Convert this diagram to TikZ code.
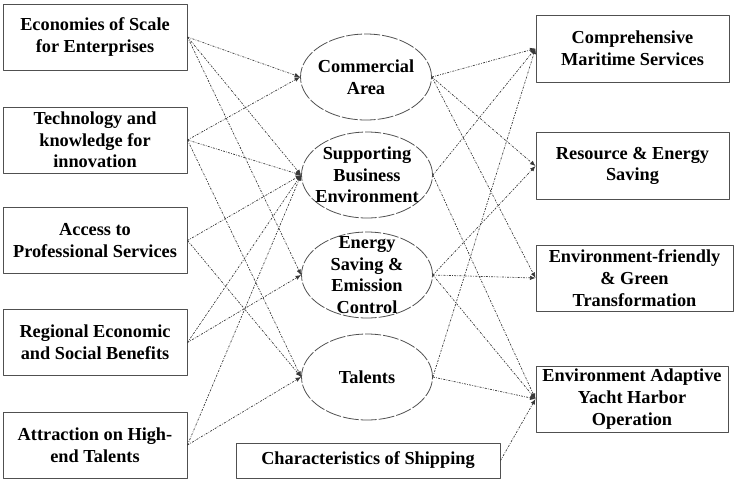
\documentclass[tikz,border=0pt]{standalone}
\usepackage{fontspec}
\setmainfont{Liberation Serif}
\usetikzlibrary{arrows.meta,shapes.geometric}
\definecolor{framegray}{HTML}{505050}
\definecolor{linkgray}{HTML}{383838}

\begin{document}
\begin{tikzpicture}[
  x=1pt,
  y=-1pt,
  line join=round,
  txt/.style={font=\fontsize{18.3}{21.7}\selectfont\bfseries,align=center,inner sep=0pt},
  factor/.style={txt,draw=framegray,line width=1pt,minimum width=184pt,minimum height=66pt},
  goal/.style={txt,draw=framegray,line width=1pt,minimum height=67pt},
  aspect/.style={ellipse,draw=framegray,line width=0.8pt,dash pattern=on 16pt off 2pt,inner sep=0pt,minimum width=131pt,minimum height=86pt},
  link/.style={draw=linkgray,line width=0.7pt,dash pattern=on 2pt off 1.3pt on 0.7pt off 1.3pt,-{Latex[length=5.5pt,width=4.5pt]}}
]
  \useasboundingbox (0,0) rectangle (738,496);

  % Influencing factors on the left.
  \node[factor] (scale) at (95,37) {Economies of Scale\\for Enterprises};
  \node[factor] (tech) at (95,140) {Technology and\\knowledge for\\innovation};
  \node[factor] (access) at (95,240.5) {Access to\\Professional Services};
  \node[factor] (regional) at (95,342.5) {Regional Economic\\and Social Benefits};
  \node[factor] (attract) at (95,445) {Attraction on High-\\end Talents};

  % Middle aspects: empty ellipses with their text laid on top.
  \node[aspect] (commercial) at (366,77) {};
  \node[aspect] (support) at (367,175) {};
  \node[aspect] (energy) at (367,275) {};
  \node[aspect] (talents) at (367,377) {};
  \node[txt] (commercialtext) at (commercial) {Commercial\\Area};
  \node[txt] (supporttext) at (support) {Supporting\\Business\\Environment};
  \node[txt] (energytext) at (energy) {Energy\\Saving \&\\Emission\\Control};
  \node[txt] (talentstext) at (talents) {Talents};

  % Target functions on the right.
  \node[goal,minimum width=193pt] (maritime) at (632.5,48.5) {Comprehensive\\Maritime Services};
  \node[goal,minimum width=193pt] (resource) at (632.5,166) {Resource \& Energy\\Saving};
  \node[goal,minimum width=197pt,minimum height=66pt] (green) at (634.5,278) {Environment-friendly\\\& Green\\Transformation};
  \node[goal,minimum width=192pt,minimum height=66pt] (yacht) at (632,399) {Environment Adaptive\\Yacht Harbor\\Operation};
  \node[txt,draw=framegray,line width=1pt,minimum width=264pt,minimum height=35pt] (shipping) at (368,460.5) {Characteristics of Shipping};

  % Factors feed the aspects.
  \foreach \src/\dst in {scale/commercial,scale/support,scale/energy,
                         tech/commercial,tech/support,tech/talents,
                         access/support,access/talents,
                         regional/support,regional/energy,
                         attract/support,attract/talents} {
    \draw[link] (\src.east) -- (\dst.west);
  }

  % Aspects feed the targets.
  \foreach \src/\dst in {commercial/maritime,commercial/resource,commercial/green,
                         support/maritime,support/yacht,
                         energy/resource,energy/green,energy/yacht,
                         talents/maritime,talents/yacht,
                         shipping/yacht} {
    \draw[link] (\src.east) -- (\dst.west);
  }
\end{tikzpicture}
\end{document}
